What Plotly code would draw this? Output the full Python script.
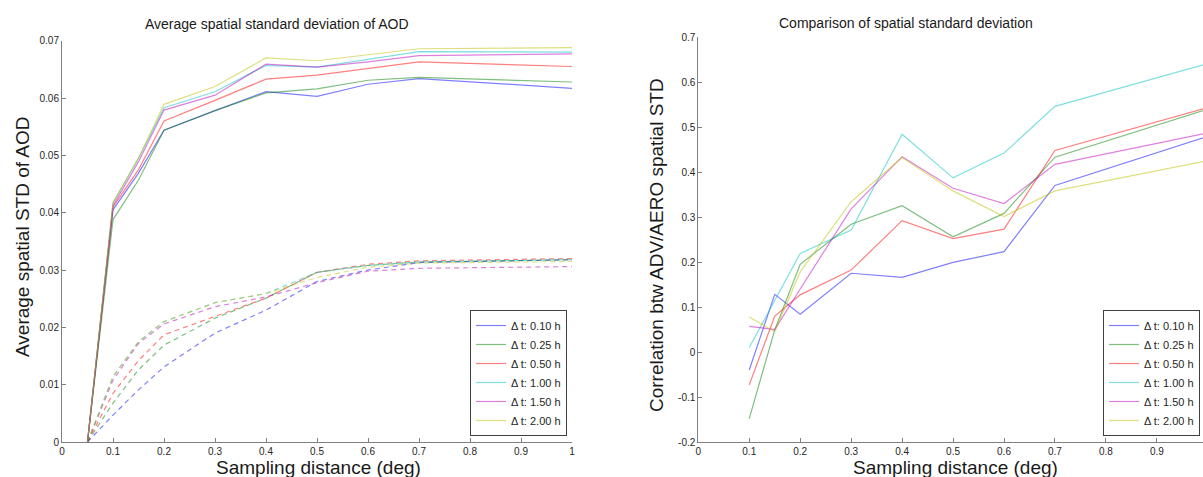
import plotly.graph_objects as go

# ---------------- data ----------------
labels = ["Δ t: 0.10 h", "Δ t: 0.25 h", "Δ t: 0.50 h", "Δ t: 1.00 h", "Δ t: 1.50 h", "Δ t: 2.00 h"]
colors = ["rgba(0,0,255,0.5)", "rgba(0,128,0,0.5)", "rgba(255,0,0,0.5)",
          "rgba(0,191,191,0.5)", "rgba(191,0,191,0.5)", "rgba(191,191,0,0.5)"]

left_x = [0.05, 0.1, 0.15, 0.2, 0.3, 0.4, 0.5, 0.6, 0.7, 1.0]
left_solid_010 = [0, 0.0405, 0.0469, 0.0544, 0.0578, 0.0611, 0.0603, 0.0624, 0.0634, 0.0617]
left_solid_025 = [0, 0.0388, 0.0457, 0.0544, 0.0578, 0.0609, 0.0616, 0.0631, 0.0636, 0.0628]
left_solid_050 = [0, 0.0410, 0.0475, 0.0560, 0.0596, 0.0633, 0.0640, 0.0651, 0.0663, 0.0655]
left_solid_100 = [0, 0.0417, 0.0495, 0.0583, 0.0611, 0.0657, 0.0654, 0.0667, 0.0681, 0.0680]
left_solid_150 = [0, 0.0412, 0.0489, 0.0579, 0.0605, 0.0659, 0.0654, 0.0663, 0.0674, 0.0677]
left_solid_200 = [0, 0.0418, 0.0495, 0.0589, 0.0620, 0.0670, 0.0665, 0.0675, 0.0686, 0.0688]

left_dash_010 = [0, 0.0047, 0.0091, 0.0131, 0.0190, 0.0230, 0.0280, 0.0300, 0.0313, 0.0318]
left_dash_025 = [0, 0.0068, 0.0126, 0.0169, 0.0216, 0.0251, 0.0296, 0.0308, 0.0314, 0.0318]
left_dash_050 = [0, 0.0085, 0.0142, 0.0187, 0.0219, 0.0251, 0.0296, 0.0310, 0.0316, 0.0320]
left_dash_100 = [0, 0.0114, 0.0175, 0.0210, 0.0243, 0.0259, 0.0296, 0.0308, 0.0314, 0.0318]
left_dash_150 = [0, 0.0108, 0.0172, 0.0206, 0.0236, 0.0253, 0.0278, 0.0298, 0.0303, 0.0306]
left_dash_200 = [0, 0.0114, 0.0175, 0.0210, 0.0243, 0.0259, 0.0287, 0.0305, 0.0312, 0.0315]

right_x = [0.1, 0.15, 0.2, 0.3, 0.4, 0.5, 0.6, 0.7, 1.0]
right_010 = [-0.040, 0.128, 0.084, 0.175, 0.166, 0.199, 0.223, 0.370, 0.479]
right_025 = [-0.148, 0.049, 0.195, 0.284, 0.325, 0.256, 0.308, 0.433, 0.540]
right_050 = [-0.073, 0.080, 0.127, 0.182, 0.292, 0.252, 0.273, 0.448, 0.543]
right_100 = [0.010, 0.115, 0.219, 0.271, 0.484, 0.387, 0.442, 0.546, 0.641]
right_150 = [0.057, 0.050, 0.140, 0.318, 0.434, 0.364, 0.330, 0.417, 0.487]
right_200 = [0.078, 0.045, 0.178, 0.334, 0.432, 0.358, 0.301, 0.358, 0.425]

left_ticks_x = [0, 0.1, 0.2, 0.3, 0.4, 0.5, 0.6, 0.7, 0.8, 0.9, 1]
left_ticktext_x = ["0", "0.1", "0.2", "0.3", "0.4", "0.5", "0.6", "0.7", "0.8", "0.9", "1"]
left_ticks_y = [0, 0.01, 0.02, 0.03, 0.04, 0.05, 0.06, 0.07]
left_ticktext_y = ["0", "0.01", "0.02", "0.03", "0.04", "0.05", "0.06", "0.07"]
right_ticks_x = [0, 0.1, 0.2, 0.3, 0.4, 0.5, 0.6, 0.7, 0.8, 0.9]
right_ticktext_x = ["0", "0.1", "0.2", "0.3", "0.4", "0.5", "0.6", "0.7", "0.8", "0.9"]
right_ticks_y = [-0.2, -0.1, 0, 0.1, 0.2, 0.3, 0.4, 0.5, 0.6, 0.7]
right_ticktext_y = ["-0.2", "-0.1", "0", "0.1", "0.2", "0.3", "0.4", "0.5", "0.6", "0.7"]

left_solid = [left_solid_010, left_solid_025, left_solid_050, left_solid_100, left_solid_150, left_solid_200]
left_dash = [left_dash_010, left_dash_025, left_dash_050, left_dash_100, left_dash_150, left_dash_200]
right_series = [right_010, right_025, right_050, right_100, right_150, right_200]

# ---------------- figure ----------------
W, H = 1203, 477
FONT = "Liberation Sans, Arial, Helvetica, sans-serif"
fig = go.Figure()

for lab, col, ys in zip(labels, colors, left_dash):
    fig.add_trace(go.Scatter(x=left_x, y=ys, mode="lines", line=dict(color=col, width=1.2, dash="5px,4px"),
                             showlegend=False, xaxis="x", yaxis="y", hoverinfo="skip"))
for lab, col, ys in zip(labels, colors, left_solid):
    fig.add_trace(go.Scatter(x=left_x, y=ys, mode="lines", name=lab, line=dict(color=col, width=1.2),
                             xaxis="x", yaxis="y", legend="legend"))
for lab, col, ys in zip(labels, colors, right_series):
    fig.add_trace(go.Scatter(x=right_x, y=ys, mode="lines", name=lab, line=dict(color=col, width=1.2),
                             xaxis="x2", yaxis="y2", legend="legend2"))

def px_x(p):
    return p / W

def px_y(p):
    return 1 - p / H

axis_common = dict(showline=True, linecolor="#7f7f7f", linewidth=1, ticks="inside", ticklen=4,
                   tickcolor="#7f7f7f", showgrid=False, zeroline=False, automargin=False,
                   tickfont=dict(family=FONT, size=10, color="#262626"))

legend_common = dict(bordercolor="#404040", borderwidth=1, bgcolor="white",
                     font=dict(family=FONT, size=11, color="#262626"), itemwidth=30,
                     tracegroupgap=0)

fig.update_layout(
    width=W, height=H,
    margin=dict(l=0, r=0, t=0, b=0),
    paper_bgcolor="white", plot_bgcolor="white",
    font=dict(family=FONT, color="#262626"),
    xaxis=dict(domain=[px_x(62), px_x(572)], range=[0, 1], tickvals=left_ticks_x,
               ticktext=left_ticktext_x, anchor="y", **axis_common),
    yaxis=dict(domain=[px_y(442), px_y(40.7)], range=[0, 0.07], tickvals=left_ticks_y,
               ticktext=left_ticktext_y, anchor="x", **axis_common),
    xaxis2=dict(domain=[px_x(698.3), 1.0], range=[0, (W - 698.3) / 509.5], tickvals=right_ticks_x,
                ticktext=right_ticktext_x, anchor="y2", **axis_common),
    yaxis2=dict(domain=[px_y(442), px_y(37)], range=[-0.2, 0.7], tickvals=right_ticks_y,
                ticktext=right_ticktext_y, anchor="x2", **axis_common),
    legend=dict(x=px_x(567), y=px_y(436), xanchor="right", yanchor="bottom", **legend_common),
    legend2=dict(x=px_x(1103), y=px_y(436), xanchor="left", yanchor="bottom", **legend_common),
    showlegend=True,
)

annos = [
    dict(text="Average spatial standard deviation of AOD", x=px_x(277), y=px_y(24), size=14, angle=0),
    dict(text="Comparison of spatial standard deviation", x=px_x(906), y=px_y(23), size=14, angle=0),
    dict(text="Sampling distance (deg)", x=px_x(318), y=px_y(467), size=19, angle=0),
    dict(text="Sampling distance (deg)", x=px_x(956), y=px_y(467), size=19, angle=0),
    dict(text="Average spatial STD of AOD", x=px_x(22), y=px_y(237), size=19, angle=-90),
    dict(text="Correlation btw ADV/AERO spatial STD", x=px_x(657), y=px_y(245), size=19, angle=-90),
]
for a in annos:
    fig.add_annotation(text=a["text"], x=a["x"], y=a["y"], xref="paper", yref="paper",
                       xanchor="center", yanchor="middle", showarrow=False, textangle=a["angle"],
                       font=dict(family=FONT, size=a["size"], color="#1a1a1a"))

fig.write_html("out.html")
